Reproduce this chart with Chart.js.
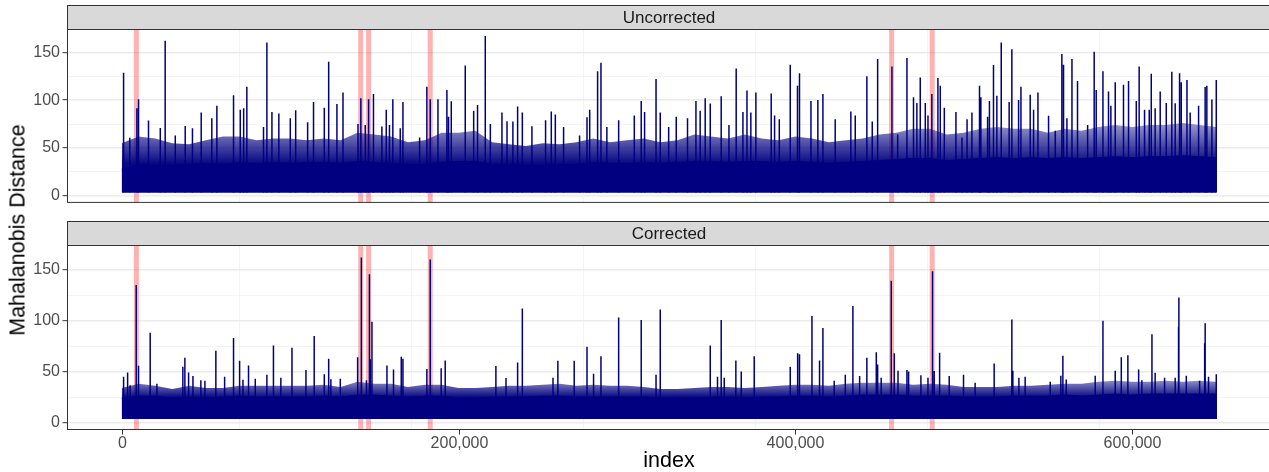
<!DOCTYPE html>
<html>
<head>
<meta charset="utf-8">
<script src="https://cdn.jsdelivr.net/npm/chart.js@4/dist/chart.umd.min.js"></script>
<style>
  html, body { margin: 0; padding: 0; background: #fff; }
  body { width: 1269px; height: 472px; overflow: hidden; position: relative; font-family: "Liberation Sans", Arial, sans-serif; }
  canvas { position: absolute; left: 0; }
  #ytitle { position: absolute; left: 17.5px; top: 230px; transform: translate(-50%, -50%) rotate(-90deg); font-size: 21.5px; white-space: nowrap; color: #000; }
</style>
</head>
<body>
<canvas id="top" width="1273" height="215" style="top:0"></canvas>
<canvas id="bottom" width="1273" height="256" style="top:216px"></canvas>
<div id="ytitle">Mahalanobis Distance</div>
<script>
const FONT = '"Liberation Sans", Arial, sans-serif';
const NAVY = '#000080';

// floor of the distance band
const FLOOR = 3.5;

// x tick labels
const xTicks = [0, 200000, 400000, 600000];

// bin positions for the dense band
const binIndex = [0, 10000, 20000, 30000, 40000, 50000, 60000, 70000, 80000, 90000,
  100000, 110000, 120000, 130000, 140000, 150000, 160000, 170000, 180000, 190000,
  200000, 210000, 220000, 230000, 240000, 250000, 260000, 270000, 280000, 290000,
  300000, 310000, 320000, 330000, 340000, 350000, 360000, 370000, 380000, 390000,
  400000, 410000, 420000, 430000, 440000, 450000, 460000, 470000, 480000, 490000,
  500000, 510000, 520000, 530000, 540000, 550000, 560000, 570000, 580000, 590000,
  600000, 610000, 620000, 630000, 640000, 650000];

// flagged indices (red bands)
const flagIndex = [8700, 141900, 146600, 183200, 457200, 481300];

// Uncorrected: solid band top, texture top, spikes [index, distance]
const bandU = [28, 33, 32, 32, 33, 34, 33, 35, 34, 35, 34, 35, 35, 34, 36, 35, 34, 33, 33, 35,
  36, 36, 33, 33, 32, 32, 33, 33, 35, 34, 34, 35, 34, 35, 36, 36, 35, 36, 36, 35,
  36, 35, 34, 35, 36, 37, 38, 39, 39, 37, 38, 39, 40, 39, 40, 39, 40, 39, 40, 41,
  40, 41, 41, 42, 41, 40];
const hazeU = [55, 62, 60, 55, 54, 58, 62, 62, 58, 60, 60, 58, 60, 58, 66, 64, 62, 56, 58, 66,
  66, 68, 56, 54, 52, 55, 54, 56, 60, 56, 58, 60, 56, 58, 64, 62, 60, 64, 60, 58,
  62, 60, 56, 58, 60, 64, 66, 70, 70, 64, 66, 70, 72, 70, 70, 66, 70, 68, 72, 74,
  72, 74, 74, 76, 74, 72];
const spikesU = [[1100, 128.5], [4800, 60.7], [9000, 91.5], [10000, 101], [15900, 78.7], [22900, 71],
  [25800, 162], [31800, 63], [37700, 73], [42000, 70.5], [47200, 87], [53500, 81], [56500, 94],
  [66400, 105], [70400, 90], [72400, 91.5], [74300, 114], [84200, 72], [86200, 160], [89200, 87.5],
  [93300, 86], [100100, 81], [103300, 89.5], [110400, 77], [113900, 98], [120300, 92], [122900, 140],
  [127800, 96], [131400, 108], [140300, 75], [142000, 102], [144600, 74], [146600, 101], [149500, 106.5],
  [154500, 72.5], [157100, 90], [159000, 74], [161000, 101], [165400, 70.5], [167000, 98], [176900, 61],
  [181200, 114], [183200, 101], [187800, 101], [193100, 110.5], [194100, 82.6], [195700, 98.7],
  [204000, 136], [209000, 89], [211300, 94.8], [215900, 167], [218900, 75], [225800, 87], [228800, 78],
  [232300, 77.7], [235100, 93.4], [237900, 87], [243600, 72.8], [251700, 79], [255100, 88], [257500, 85],
  [262400, 71.8], [271900, 63], [276300, 82], [277900, 90], [282600, 130], [284600, 139], [288100, 72],
  [295100, 79], [304400, 84], [308500, 99], [310500, 87.5], [317300, 122], [319800, 87], [324800, 72],
  [329300, 82.6], [336000, 81], [341000, 99], [343500, 89], [346500, 102], [349500, 96.4], [356000, 104],
  [360600, 74], [364900, 133], [368900, 87.5], [371300, 110], [373600, 87], [376600, 108], [385700, 107],
  [387700, 84], [390500, 80], [397000, 137], [401300, 115], [402500, 128], [409300, 99], [413400, 100],
  [416400, 106.5], [423700, 80], [433000, 88], [435600, 84], [442500, 125], [445700, 77.7], [448900, 143],
  [457400, 135], [460800, 64], [466300, 144], [470200, 103], [472200, 97], [474200, 123.6], [477200, 97],
  [478800, 84], [481100, 106.5], [484700, 123], [486100, 115], [488500, 92], [495400, 87.5], [499000, 61],
  [502000, 80], [504900, 87], [509400, 115], [510200, 103], [514200, 82.6], [515300, 99], [517700, 136.7],
  [519700, 104.6], [522300, 160], [527000, 98], [528600, 153], [532600, 100], [534000, 114], [539500, 105.6],
  [541500, 90], [544100, 108], [550400, 83.6], [554400, 68], [558300, 148], [559300, 137], [561300, 81],
  [564300, 143], [567600, 120], [573600, 74], [577500, 150.5], [578700, 110.5], [582700, 130], [586000, 109],
  [587400, 94], [590000, 118.7], [594900, 116], [597900, 120], [602500, 99], [604200, 135], [607400, 90],
  [610200, 90], [611400, 127.5], [613700, 91.5], [616700, 109], [620300, 97], [623600, 129.5], [625600, 96.7],
  [628200, 128], [629200, 118.7], [632600, 121], [634500, 87], [639500, 94], [643400, 113.8], [644400, 115],
  [647400, 100.7], [650000, 121]];

// Corrected
const bandC = [24, 26, 26, 24, 25, 24, 25, 26, 25, 25, 25, 25, 26, 25, 27, 27, 26, 25, 26, 26,
  24, 24, 25, 25, 25, 26, 26, 25, 25, 25, 25, 25, 24, 24, 24, 25, 25, 24, 25, 25,
  26, 26, 25, 26, 27, 27, 27, 26, 26, 26, 25, 25, 25, 26, 26, 26, 27, 26, 27, 28,
  27, 28, 28, 28, 28, 28];
const hazeC = [34, 38, 36, 33, 36, 34, 34, 36, 36, 36, 36, 36, 37, 35, 40, 38, 38, 35, 37, 37,
  34, 34, 35, 36, 36, 37, 38, 36, 37, 36, 36, 35, 33, 33, 34, 35, 35, 34, 35, 36,
  37, 37, 36, 38, 39, 39, 39, 37, 38, 37, 35, 35, 35, 36, 36, 37, 38, 38, 40, 41,
  40, 40, 41, 40, 41, 40];
const spikesC = [[1100, 45], [3500, 49], [5000, 36.7], [8600, 135], [10000, 55.7], [16900, 88], [20900, 38],
  [36300, 54.8], [37500, 63.6], [39700, 49], [42300, 45.6], [47000, 41.6], [49400, 41], [55900, 70.5],
  [61100, 45], [66400, 83], [70000, 60.7], [72000, 42], [75300, 56], [79300, 43], [86200, 47], [90100, 75.7],
  [94500, 44], [101100, 73.4], [109400, 51.5], [114300, 85], [120300, 47.5], [122900, 62.6], [124200, 42.6],
  [129800, 43], [140100, 64], [142300, 162], [145300, 41.6], [147100, 145.6], [147600, 62], [148600, 99],
  [157500, 56], [161400, 52], [166000, 64.6], [167000, 62.6], [181200, 52.5], [183200, 160], [189700, 53.4],
  [192100, 61], [222200, 55.4], [228200, 43.6], [235100, 59], [237900, 112], [256100, 44], [259000, 60.7],
  [268700, 60.7], [276300, 74.4], [280200, 48], [284600, 65], [295100, 103], [308500, 100.7], [317300, 47],
  [319800, 111], [349500, 75.7], [353800, 45], [356000, 100.7], [357800, 44], [364700, 61], [367900, 50],
  [375600, 65], [397000, 54.8], [401400, 68], [402500, 67], [409900, 104.6], [414400, 61], [416400, 92.8],
  [423100, 41], [429700, 47], [434200, 114.4], [438200, 45.6], [442500, 63.6], [448100, 68.9], [448900, 57],
  [451000, 44], [457000, 139], [458800, 68], [461000, 50.8], [466300, 51.5], [467300, 50], [474600, 46.5],
  [478800, 44], [481500, 148.5], [482500, 50.5], [485700, 68.5], [491400, 45.6], [499900, 47], [506800, 39],
  [518100, 58], [528600, 101], [529200, 50.8], [532800, 44], [536500, 45], [551400, 40], [557700, 46],
  [558900, 65.6], [560900, 42.3], [578100, 46], [582700, 100], [590000, 50.8], [593600, 64], [597500, 66],
  [603900, 52], [605800, 41.6], [611800, 86.6], [613700, 48.9], [619300, 44], [625600, 44], [627600, 94],
  [627800, 122.6], [632200, 46], [640100, 41], [643100, 77.7], [643400, 97.4], [645400, 45], [650000, 47.5]];

const X_MIN = -32500, X_MAX = 682500;
const Y_MIN = -7.3, Y_MAX = 173.7;

// strip header, panel border and (bottom panel) x tick labels
const stripPlugin = {
  id: 'strip',
  afterDraw(chart, args, opts) {
    const { ctx, chartArea: a } = chart;
    ctx.save();
    ctx.fillStyle = '#D9D9D9';
    ctx.fillRect(a.left, 5, a.right - a.left, a.top - 5);
    ctx.strokeStyle = '#333333';
    ctx.lineWidth = 1;
    ctx.strokeRect(a.left + 0.5, 5.5, a.right - a.left - 1, a.top - 5.5);
    ctx.strokeRect(a.left + 0.5, a.top, a.right - a.left - 1, a.bottom - a.top - 0.5);
    ctx.fillStyle = '#1A1A1A';
    ctx.font = '17px ' + FONT;
    ctx.textAlign = 'center';
    ctx.textBaseline = 'middle';
    ctx.fillText(opts.label, (a.left + a.right) / 2, (5 + a.top) / 2 + 1);

    if (opts.xLabels) {
      const x = chart.scales.x;
      ctx.font = '16px ' + FONT;
      ctx.fillStyle = '#4D4D4D';
      opts.xLabels.forEach(v => {
        const px = Math.round(x.getPixelForValue(v)) + 0.5;
        ctx.beginPath();
        ctx.moveTo(px, a.bottom);
        ctx.lineTo(px, a.bottom + 4.5);
        ctx.stroke();
        ctx.fillText(v.toLocaleString('en-US'), px, a.bottom + 13.5);
      });
    }
    ctx.restore();
  }
};

const isMajor = (c, step) => c.tick && Math.abs(c.tick.value % step) < 1e-6;

function makePanel(id, label, band, haze, spikes, hazeStops, showX) {
  const spikePts = [];
  spikes.forEach(([i, v]) => {
    spikePts.push({ x: i, y: FLOOR }, { x: i, y: v }, { x: i, y: null });
  });
  const flagPts = [];
  flagIndex.forEach(i => {
    flagPts.push({ x: i, y: Y_MIN - 10 }, { x: i, y: Y_MAX + 10 }, { x: i, y: null });
  });

  const hazeFill = ctx => {
    const { chart } = ctx;
    if (!chart.chartArea) return 'rgba(0,0,128,0.7)';
    const y = chart.scales.y;
    const g = chart.ctx.createLinearGradient(0, y.getPixelForValue(hazeStops[0]), 0, y.getPixelForValue(hazeStops[1]));
    g.addColorStop(0, 'rgba(0,0,128,0.97)');
    g.addColorStop(1, 'rgba(0,0,128,0.45)');
    return g;
  };

  return new Chart(document.getElementById(id), {
    type: 'line',
    data: {
      datasets: [
        { data: spikePts, borderColor: NAVY, borderWidth: 1.5, pointRadius: 0, spanGaps: false, order: 0, clip: 0 },
        { data: band.map((v, i) => ({ x: binIndex[i], y: v })), fill: { value: FLOOR }, backgroundColor: NAVY,
          borderColor: NAVY, borderWidth: 1, pointRadius: 0, order: 1, clip: 0 },
        { data: haze.map((v, i) => ({ x: binIndex[i], y: v })), fill: { value: FLOOR }, backgroundColor: hazeFill,
          borderWidth: 0, pointRadius: 0, order: 2, clip: 0 },
        { data: flagPts, borderColor: 'rgba(255,0,0,0.3)', borderWidth: 5, pointRadius: 0, spanGaps: false, order: 3, clip: 0 }
      ]
    },
    options: {
      responsive: false,
      animation: false,
      devicePixelRatio: 1,
      events: [],
      layout: { padding: { top: 29.5, right: 2, bottom: showX ? 0 : 1, left: 0 } },
      plugins: {
        legend: { display: false }, tooltip: { enabled: false },
        strip: { label, xLabels: showX ? xTicks : null }
      },
      scales: {
        x: {
          type: 'linear', min: X_MIN, max: X_MAX,
          afterFit: s => { s.height = showX ? 42 : 0; },
          border: { display: false },
          ticks: { display: false, stepSize: 100000, includeBounds: false, autoSkip: false, maxRotation: 0 },
          grid: {
            color: c => isMajor(c, 200000) ? '#EBEBEB' : '#F1F1F1',
            lineWidth: c => isMajor(c, 200000) ? 1.4 : 0.8,
            drawTicks: false
          },
          title: { display: showX, text: 'index', color: '#000', font: { size: 21.5, family: FONT, lineHeight: 1 }, padding: 0 }
        },
        y: {
          min: Y_MIN, max: Y_MAX,
          afterFit: s => { s.width = 67; },
          border: { display: false },
          ticks: {
            stepSize: 25, includeBounds: false, autoSkip: false,
            color: '#4D4D4D', font: { size: 16, family: FONT }, padding: 2.5,
            callback: v => v % 50 === 0 ? String(v) : ''
          },
          grid: {
            color: c => isMajor(c, 50) ? '#EBEBEB' : '#F1F1F1',
            lineWidth: c => isMajor(c, 50) ? 1.4 : 0.8,
            tickLength: 4.5, tickWidth: 1,
            tickColor: c => isMajor(c, 50) ? '#333333' : 'rgba(0,0,0,0)'
          }
        }
      }
    },
    plugins: [stripPlugin]
  });
}

makePanel('top', 'Uncorrected', bandU, hazeU, spikesU, [34, 72], false);
makePanel('bottom', 'Corrected', bandC, hazeC, spikesC, [25, 41], true);
</script>
</body>
</html>
